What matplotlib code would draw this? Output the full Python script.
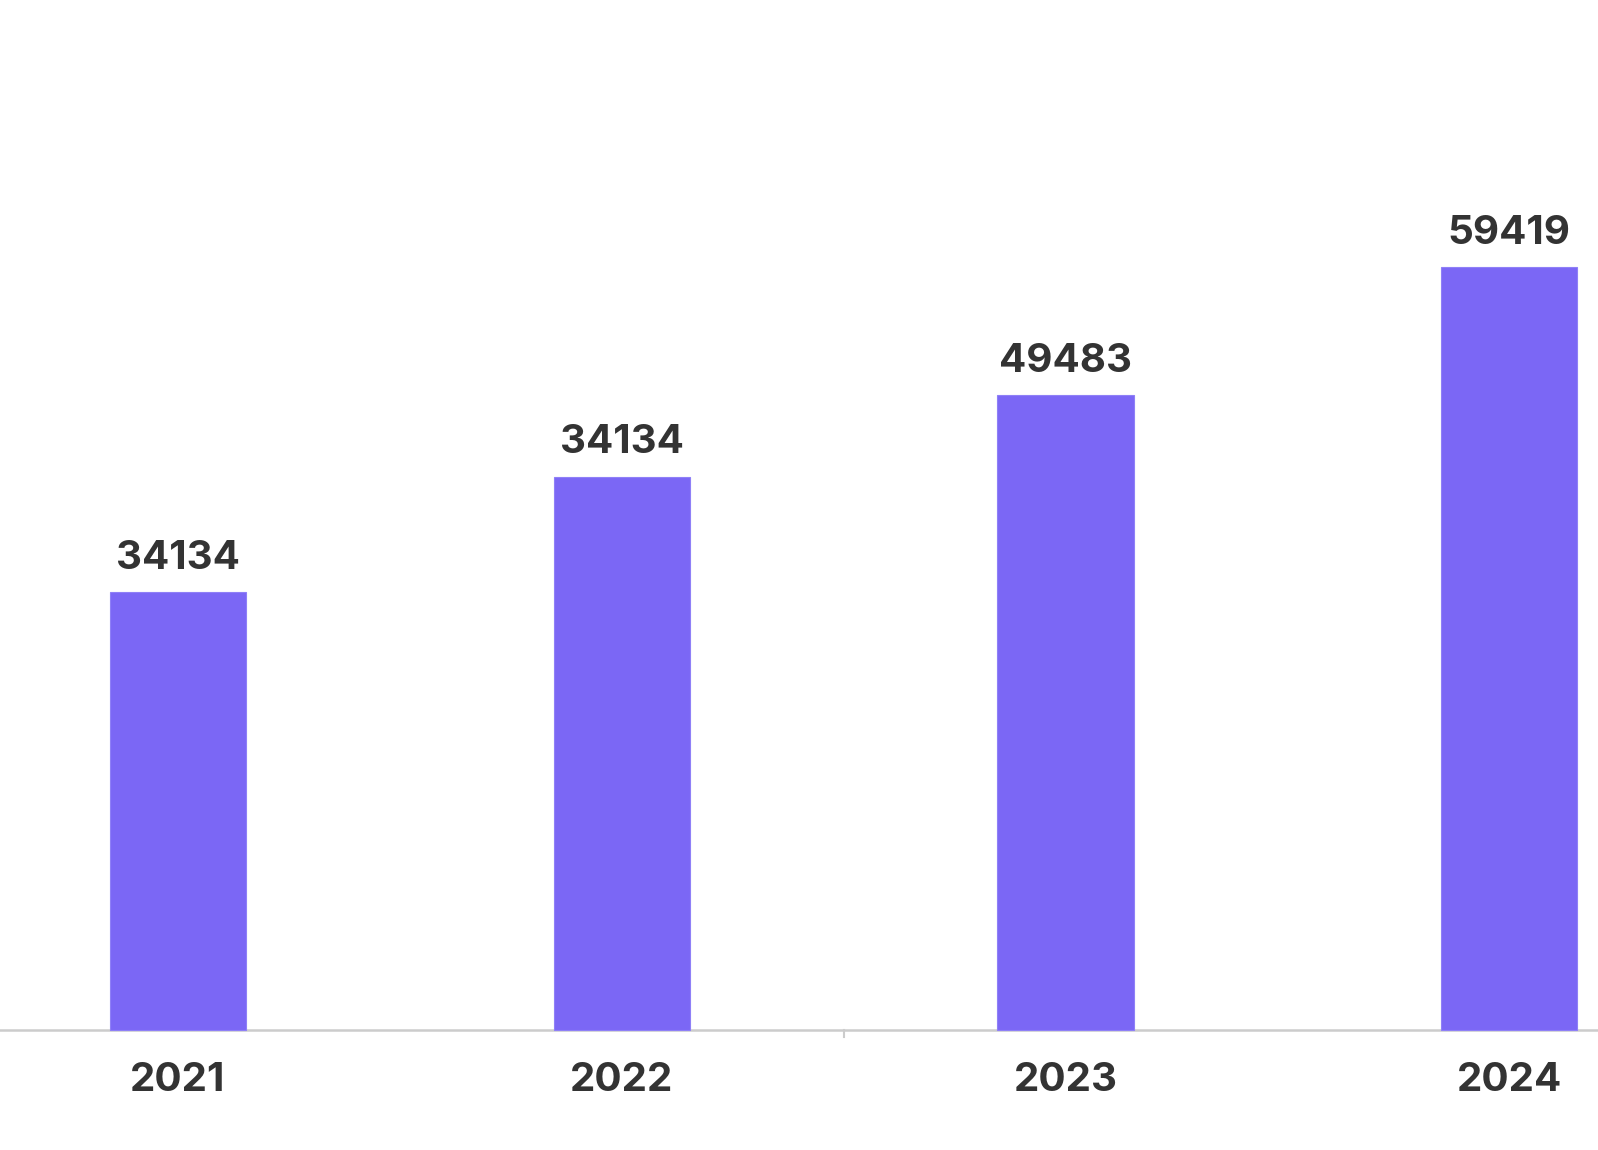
import matplotlib
matplotlib.use("Agg")
import matplotlib.pyplot as plt

years = ["2021", "2022", "2023", "2024"]
values = [34134, 43100, 49483, 59419]
value_labels = ["34134", "34134", "49483", "59419"]

bar_color = "#7B67F5"
text_color = "#333333"
font = ["Inter", "DejaVu Sans"]

fig = plt.figure(figsize=(15.98, 11.5), dpi=100)
ax = fig.add_axes([0, 0, 1, 1])
x = list(range(len(years)))
ax.bar(x, values, width=0.307, color=bar_color, edgecolor="#8f80f7", linewidth=0.8, zorder=2)

ax.set_xlim(-0.401, 3.200)
ax.set_ylim(-120 * 77.9, 1030 * 77.9)

for xi, v, lab in zip(x, values, value_labels):
    ax.annotate(lab, (xi, v), xytext=(0, 11), textcoords="offset points",
                ha="center", va="bottom", fontsize=29, fontweight="bold",
                color=text_color, family=font)

for xi, yr in zip(x, years):
    ax.annotate(yr, (xi, 0), xytext=(0, -23), textcoords="offset points",
                ha="center", va="top", fontsize=29, fontweight="bold",
                color=text_color, family=font)

ax.axhline(0, color="#cccccc", linewidth=1.8, zorder=1)
ax.plot([1.5, 1.5], [0, -7 * 77.9], color="#cccccc", linewidth=1.5)

ax.axis("off")
fig.savefig("out.png", dpi=100)
